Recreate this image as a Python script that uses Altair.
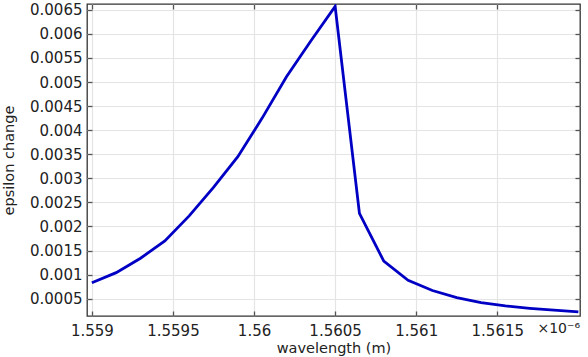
import altair as alt
import pandas as pd

# wavelength in units of 1e-6 m
wavelength = [1.559, 1.55915, 1.5593, 1.55945, 1.5596, 1.55975, 1.5599, 1.56005,
              1.5602, 1.56035, 1.5605, 1.56065, 1.5608, 1.56095, 1.5611, 1.56125,
              1.5614, 1.56155, 1.5617, 1.56185, 1.562]
eps_change = [0.00083, 0.00104, 0.00134, 0.00170, 0.00222, 0.00281, 0.00345, 0.00425,
              0.00511, 0.00585, 0.00657, 0.00227, 0.00128, 0.00088, 0.00067, 0.00052,
              0.00042, 0.00035, 0.00030, 0.00026, 0.000225]
x_ticks = [1.559, 1.5595, 1.56, 1.5605, 1.561, 1.5615]
y_ticks = [0.0005, 0.001, 0.0015, 0.002, 0.0025, 0.003, 0.0035, 0.004,
           0.0045, 0.005, 0.0055, 0.006, 0.0065]
x_domain = [1.55897, 1.56201]
y_domain = [0.00014, 0.00662]

df = pd.DataFrame({"wl": wavelength, "eps": eps_change})

FONT = "DejaVu Sans"
TXT = "#222222"

xs = alt.Scale(domain=x_domain, nice=False, zero=False)
ys = alt.Scale(domain=y_domain, nice=False, zero=False)

main = alt.Chart(df).mark_line(color="#0000c4", strokeWidth=2.8, clip=True).encode(
    x=alt.X("wl:Q", scale=xs, title="wavelength (m)",
            axis=alt.Axis(values=x_ticks, format=".5~f", ticks=False, domain=False,
                          grid=True, gridColor="#e4e4e4", gridWidth=1.2,
                          labelFont=FONT, labelFontSize=15, labelColor=TXT,
                          labelPadding=7, labelFlush=False,
                          titleFont=FONT, titleFontSize=14.5, titleFontWeight="normal",
                          titleColor=TXT, titlePadding=3)),
    y=alt.Y("eps:Q", scale=ys, title="epsilon change",
            axis=alt.Axis(values=y_ticks, format=".4~f", ticks=False, domain=False,
                          grid=True, gridColor="#e4e4e4", gridWidth=1.2,
                          labelFont=FONT, labelFontSize=15, labelColor=TXT,
                          labelPadding=5, labelFlush=False,
                          titleFont=FONT, titleFontSize=14.5, titleFontWeight="normal",
                          titleColor=TXT, titleX=-78, titleBaseline="middle")),
)

tick_axis = dict(ticks=True, tickSize=5, tickWidth=1.3, tickColor="#555555",
                 labels=False, domain=False, grid=False, title=None, offset=-5)

ticks_bl = alt.Chart(df).mark_line(opacity=0).encode(
    x=alt.X("wl:Q", scale=xs, axis=alt.Axis(values=x_ticks, orient="bottom", **tick_axis)),
    y=alt.Y("eps:Q", scale=ys, axis=alt.Axis(values=y_ticks, orient="left", **tick_axis)),
)
ticks_tr = alt.Chart(df).mark_line(opacity=0).encode(
    x=alt.X("wl:Q", scale=xs, axis=alt.Axis(values=x_ticks, orient="top", **tick_axis)),
    y=alt.Y("eps:Q", scale=ys, axis=alt.Axis(values=y_ticks, orient="right", **tick_axis)),
)

exp_text = alt.Chart(pd.DataFrame({"t": ["×10⁻⁶"]})).mark_text(
    font=FONT, fontSize=14, color=TXT, align="right", baseline="top", dy=6
).encode(
    x=alt.XDatum(x_domain[1], scale=xs, axis=None),
    y=alt.value(312),
    text="t:N",
)

chart = alt.layer(main, ticks_bl, ticks_tr, exp_text).resolve_axis(
    x="independent", y="independent"
).properties(
    width=493, height=312,
    padding={"left": 87, "top": 4, "right": 8, "bottom": 41},
    autosize=alt.AutoSizeParams(type="none"),
    background="white",
).configure_view(stroke="#333333", strokeWidth=1.3)

chart.save("out.html", embed_options={"renderer": "svg", "actions": False})
